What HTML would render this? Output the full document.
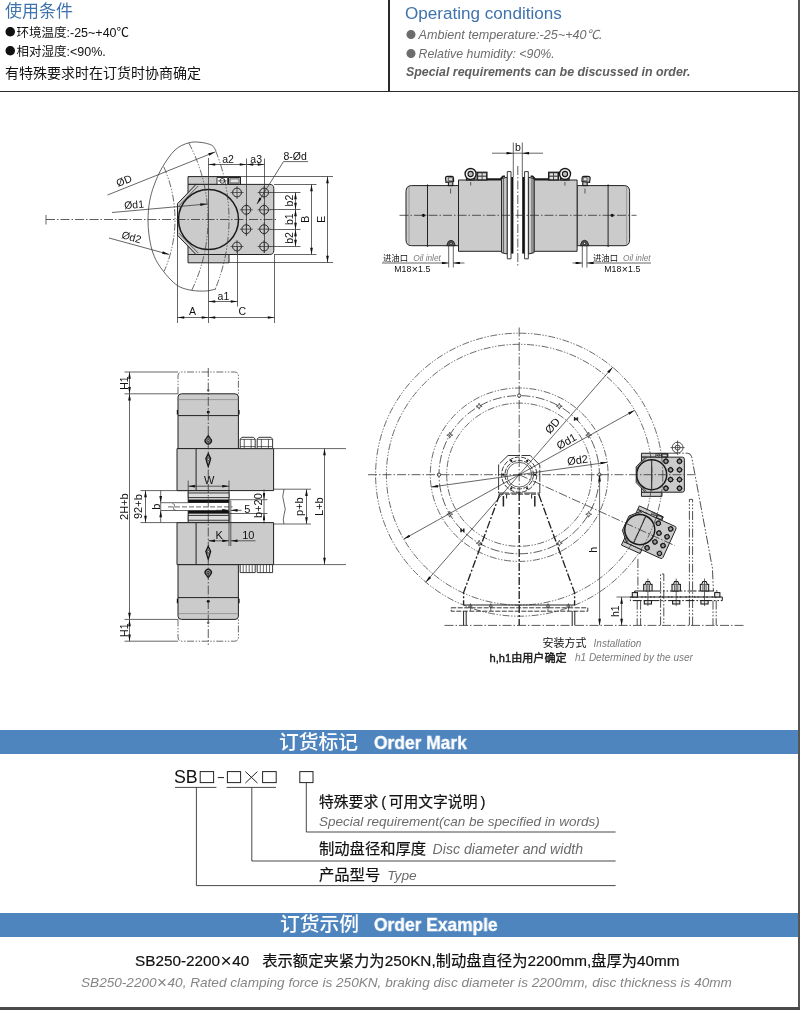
<!DOCTYPE html>
<html lang="zh">
<head>
<meta charset="utf-8">
<title>SB Brake - Order Mark</title>
<style>
html,body{margin:0;padding:0;background:#fff;}
body{width:800px;height:1010px;position:relative;overflow:hidden;font-family:"Liberation Sans","Noto Sans CJK SC",sans-serif;color:#111;}
.abs{position:absolute;white-space:nowrap;line-height:1;}
.t{position:absolute;white-space:nowrap;line-height:1;}
.hline{position:absolute;background:#2a2a2a;}
.band{position:absolute;left:0;width:798px;background:#4f85bf;}
.bt{position:absolute;color:#fff;white-space:nowrap;line-height:1;}
.eb{font-size:18.4px;font-weight:bold;transform-origin:0 50%;transform:scaleX(0.945);-webkit-text-stroke:0.35px #fff;}
.xx{font-size:1.25em;line-height:0;margin:0 0.5px;position:relative;top:0.8px;-webkit-text-stroke:0;}
.cj{-webkit-text-stroke:0.2px #111;}
.gi{color:#6c6c6c;font-style:italic;}
.bl{font-family:"Noto Sans CJK SC",sans-serif;font-style:normal;display:inline-block;width:11.5px;font-size:10.5px;position:relative;top:-0.6px;}
svg{position:absolute;left:0;top:0;will-change:transform;}
.t,.bt{will-change:transform;}
svg text{font-family:"Liberation Sans","Noto Sans CJK SC",sans-serif;fill:#111;}
</style>
</head>
<body>
<!-- page frame lines -->
<div class="hline" style="left:0;top:90.6px;width:800px;height:1.3px;"></div>
<div class="hline" style="left:388.3px;top:0;width:1.6px;height:91px;"></div>
<div class="hline" style="left:798.2px;top:0;width:1.8px;height:1010px;background:#555;"></div>
<div class="hline" style="left:0;top:1007.2px;width:800px;height:3px;background:#4a4a4a;"></div>

<!-- header left -->
<div class="t" style="left:4.5px;top:3px;font-size:17px;color:#3f73ad;">使用条件</div>
<div class="t" style="left:5px;top:27.4px;font-size:12.5px;"><span class="bl">●</span>环境温度:-25~+40℃</div>
<div class="t" style="left:5px;top:46px;font-size:12.5px;"><span class="bl">●</span>相对湿度:&lt;90%.</div>
<div class="t" style="left:5px;top:66px;font-size:14px;">有特殊要求时在订货时协商确定</div>

<!-- header right -->
<div class="t" style="left:405px;top:4.5px;font-size:17.1px;color:#3f73ad;">Operating conditions</div>
<div class="t gi" style="left:406px;top:28.9px;font-size:12.6px;"><span class="bl" style="width:12.5px;font-size:10px;position:relative;top:-0.5px">●</span>Ambient temperature:-25~+40℃.</div>
<div class="t gi" style="left:406px;top:48.1px;font-size:12.35px;"><span class="bl" style="width:12.5px;font-size:10px;position:relative;top:-0.5px">●</span>Relative humidity: &lt;90%.</div>
<div class="t gi" style="left:406px;top:65.8px;font-size:12.4px;font-weight:bold;color:#5e5e5e;">Special requirements can be discussed in order.</div>

<!-- bands -->
<div class="band" style="top:730px;height:23.8px;"></div>
<div class="bt" style="left:278.5px;top:733.2px;font-size:19.8px;font-weight:500;">订货标记</div>
<div class="bt eb" style="left:374px;top:733.9px;">Order Mark</div>

<div class="band" style="top:913.2px;height:23.8px;"></div>
<div class="bt" style="left:279.5px;top:915.4px;font-size:19.8px;font-weight:500;">订货示例</div>
<div class="bt eb" style="left:374px;top:916.4px;">Order Example</div>

<!-- order mark -->
<div class="t" style="left:174.4px;top:769.1px;font-size:17.8px;">SB</div>
<div class="t cj" style="left:318.5px;top:794.8px;font-size:14.8px;">特殊要求<span style="margin:0 2.5px 0 3px">(</span>可用文字说明<span style="margin-left:3px">)</span></div>
<div class="t gi" style="left:318.5px;top:814.6px;font-size:13.5px;">Special requirement(can be specified in words)</div>
<div class="t cj" style="left:318.5px;top:841px;font-size:15.3px;">制动盘径和厚度<span class="gi" style="font-size:14.1px;margin-left:6.5px;-webkit-text-stroke:0">Disc diameter and width</span></div>
<div class="t cj" style="left:318.5px;top:866.6px;font-size:15.3px;">产品型号<span class="gi" style="font-size:13.7px;margin-left:7px;-webkit-text-stroke:0">Type</span></div>

<!-- order example -->
<div class="t cj" style="left:135px;top:952.8px;font-size:15.3px;">SB250-2200<span class="xx">×</span>40<span style="display:inline-block;width:13px"></span>表示额定夹紧力为250KN,制动盘直径为2200mm,盘厚为40mm</div>
<div class="t gi" style="left:81px;top:976.2px;font-size:13.6px;color:#858585;">SB250-2200<span class="xx" style="font-style:normal">×</span>40, Rated clamping force is 250KN, braking disc diameter is 2200mm, disc thickness is 40mm</div>

<svg id="dw" width="800" height="1010" viewBox="0 0 800 1010">
<defs>
<marker id="ar" viewBox="0 0 10 4" refX="10" refY="2" markerWidth="8.5" markerHeight="2.7" orient="auto-start-reverse" markerUnits="userSpaceOnUse"><path d="M0,0 L10,2 L0,4 z" fill="#111"/></marker>
</defs>
<style>
.k{vector-effect:non-scaling-stroke;stroke:#222;stroke-width:1;fill:none}
.kg{vector-effect:non-scaling-stroke;stroke:#222;stroke-width:1;fill:#cbcbcb}
.kw{vector-effect:non-scaling-stroke;stroke:#222;stroke-width:0.9;fill:#fff}
.kb{vector-effect:non-scaling-stroke;stroke:#1a1a1a;stroke-width:1.5;fill:none}
.kbg{vector-effect:non-scaling-stroke;stroke:#1a1a1a;stroke-width:1.5;fill:#cbcbcb}
.n{vector-effect:non-scaling-stroke;stroke:#333;stroke-width:0.75;fill:none}
.nw{vector-effect:non-scaling-stroke;stroke:#333;stroke-width:0.65;fill:#e4e4e4}
.cl{stroke:#333;stroke-width:0.8;fill:none;stroke-dasharray:9 2 1.5 2}
.ph{stroke:#3a3a3a;stroke-width:0.75;fill:none;stroke-dasharray:7 1.6 1.4 1.6 1.4 1.6}
.blk{fill:#111;stroke:none}
.gf{fill:#cbcbcb;stroke:none}
.kl{stroke:#222;stroke-width:0.8;fill:#dedede}
.kbg2{stroke:#1a1a1a;stroke-width:1.3;fill:#8c8c8c}
.dsh{stroke:#666;stroke-width:1;fill:none;stroke-dasharray:5 2}
.kw2{stroke:#222;stroke-width:0.8;fill:#fff}
.k2{stroke:#222;stroke-width:1.5;fill:none}
.dk{stroke:#222;stroke-width:0.9;fill:none;stroke-dasharray:5 1.5}
.dk2{stroke:#222;stroke-width:1.35;fill:none;stroke-dasharray:8 2 2 2}
.dk3{stroke:#222;stroke-width:1.6;fill:none;stroke-dasharray:5 2}
.ph2{stroke:#222;stroke-width:0.8;fill:none;stroke-dasharray:9 1.8 1.6 1.8 1.6 1.8}
.sq{stroke:#222;stroke-width:1;fill:none}
.ol{stroke:#333;stroke-width:0.9;fill:none}
.hs{stroke:#222;stroke-width:0.9;fill:none;stroke-dasharray:12 1.5}
.kd{stroke:#222;stroke-width:0.9;fill:#555}
.n3{stroke:#333;stroke-width:0.7;fill:none}
.hd{stroke:#1a1a1a;stroke-width:1.1;fill:#9a9a9a}
.kb2{stroke:#1a1a1a;stroke-width:1.05;fill:#e6e6e6}
.ph3{stroke:#1a1a1a;stroke-width:1;fill:none;stroke-dasharray:9 1.8 1.6 1.8 1.6 1.8}
.kf{stroke:#1a1a1a;stroke-width:1.1;fill:#bdbdbd}
.kf2{stroke:#1a1a1a;stroke-width:1.1;fill:#444}
.wf{stroke:none;fill:#e2e2e2}
.kw3{stroke:#1a1a1a;stroke-width:1.4;fill:#f4f4f4}
.k3{stroke:#1a1a1a;stroke-width:1.7;fill:none}
.n2{stroke:#777;stroke-width:0.6;fill:none}
svg text.gi{fill:#7a7a7a;font-style:italic}
</style>

<g id="d1">
<g transform="translate(208.5,219.5)">
<g id="cal"><rect class="kg" x="-20.5" y="-42.9" width="52.5" height="7.8"/>
<rect class="kg" x="-20.5" y="35" width="41" height="8.3"/>
<path class="kg" d="M-20.5,-35.1 L-11.5,-35.1 L-20.5,-25.5 Z"/>
<path class="kg" d="M-20.5,35 L-11.5,35 L-20.5,25.5 Z"/>
<path class="kg" d="M-12.5,-35.1 L61.3,-35.1 Q65.3,-35.1 65.3,-31.1 L65.3,31 Q65.3,35 61.3,35 L-12.5,35 L-31,15.8 L-31,-15.8 Z"/>
<path class="n" d="M-10.3,-33.6 L-29.6,-13.6 M-29.6,13.6 L-10.3,33.6"/>
<rect class="kw" x="8.5" y="-42" width="10.7" height="6.9"/>
<circle class="kw" cx="13.8" cy="-38.6" r="2.4"/>
<line class="n" x1="9.5" y1="-38.6" x2="18.2" y2="-38.6"/>
<rect class="k" x="20" y="-42" width="12" height="6.9"/>
<rect class="nw" x="21.5" y="-40.6" width="9" height="4"/>
<circle class="kbg" cx="0" cy="0" r="30"/>
<circle class="kg" cx="28.5" cy="-27" r="4.4"/>
<line class="n" x1="22" y1="-27" x2="35" y2="-27"/>
<line class="n" x1="28.5" y1="-33.5" x2="28.5" y2="-20.5"/>
<circle class="kg" cx="55.6" cy="-27" r="4.4"/>
<line class="n" x1="49.1" y1="-27" x2="62.1" y2="-27"/>
<line class="n" x1="55.6" y1="-33.5" x2="55.6" y2="-20.5"/>
<circle class="kg" cx="37.8" cy="-9.7" r="4.4"/>
<line class="n" x1="31.3" y1="-9.7" x2="44.3" y2="-9.7"/>
<line class="n" x1="37.8" y1="-16.2" x2="37.8" y2="-3.2"/>
<circle class="kg" cx="55.6" cy="-9.7" r="4.4"/>
<line class="n" x1="49.1" y1="-9.7" x2="62.1" y2="-9.7"/>
<line class="n" x1="55.6" y1="-16.2" x2="55.6" y2="-3.2"/>
<circle class="kg" cx="37.8" cy="9.7" r="4.4"/>
<line class="n" x1="31.3" y1="9.7" x2="44.3" y2="9.7"/>
<line class="n" x1="37.8" y1="3.2" x2="37.8" y2="16.2"/>
<circle class="kg" cx="55.6" cy="9.7" r="4.4"/>
<line class="n" x1="49.1" y1="9.7" x2="62.1" y2="9.7"/>
<line class="n" x1="55.6" y1="3.2" x2="55.6" y2="16.2"/>
<circle class="kg" cx="28.5" cy="27" r="4.4"/>
<line class="n" x1="22" y1="27" x2="35" y2="27"/>
<line class="n" x1="28.5" y1="20.5" x2="28.5" y2="33.5"/>
<circle class="kg" cx="55.6" cy="27" r="4.4"/>
<line class="n" x1="49.1" y1="27" x2="62.1" y2="27"/>
<line class="n" x1="55.6" y1="20.5" x2="55.6" y2="33.5"/></g>
</g>
<path class="n" d="M216,151 C215.28,150.03 214.37,146.65 211.7,145.2 C209.03,143.75 203.87,142.68 200,142.3 C196.13,141.92 192.67,141.62 188.5,142.9 C184.33,144.18 179.38,145.9 175,150 C170.62,154.1 165.7,161.58 162.2,167.5 C158.7,173.42 156.12,179.75 154,185.5 C151.88,191.25 150.5,196.33 149.5,202 C148.5,207.67 148.08,214 148,219.5 C147.92,225 148.33,229.92 149,235 C149.67,240.08 150.67,245.5 152,250 C153.33,254.5 155,258.33 157,262 C159,265.67 161.5,268.83 164,272 C166.5,275.17 169.33,278.5 172,281 C174.67,283.5 176.67,285.43 180,287 C183.33,288.57 187.67,289.73 192,290.4 C196.33,291.07 202,291.23 206,291 C210,290.77 214.33,289.33 216,289"/>
<path class="ph" d="M215.67,150.95 A183,183 0 0 1 215.31,288.94"/>
<path class="ph" d="M188.77,142.95 A162,162 0 0 1 191.85,290.01"/>
<path class="ph" d="M163.76,166.83 A129,129 0 0 1 164.21,271.15"/>
<line class="cl" x1="46" y1="219.5" x2="278" y2="219.5"/>
<line class="n" x1="46" y1="215" x2="46" y2="224.5"/>
<line class="n" x1="107.5" y1="195" x2="215" y2="152" marker-end="url(#ar)"/>
<line class="n" x1="112" y1="212.5" x2="207" y2="204" marker-end="url(#ar)"/>
<line class="n" x1="109" y1="238" x2="169" y2="254.4" marker-end="url(#ar)"/>
<text x="124" y="184.28" font-size="10.5" text-anchor="middle" transform="rotate(-22 124 180.5)">ØD</text>
<text x="134" y="208.28" font-size="10.5" text-anchor="middle" transform="rotate(-5 134 204.5)">Ød1</text>
<text x="131.5" y="240.78" font-size="10.5" text-anchor="middle" transform="rotate(15.5 131.5 237)">Ød2</text>
<line class="n" x1="208.5" y1="158" x2="208.5" y2="323"/>
<line class="n" x1="246.5" y1="158.5" x2="246.5" y2="236"/>
<line class="n" x1="264.5" y1="158.5" x2="264.5" y2="253"/>
<line class="n" x1="208.5" y1="164.5" x2="246.5" y2="164.5" marker-start="url(#ar)" marker-end="url(#ar)"/>
<line class="n" x1="246.5" y1="164.5" x2="264.5" y2="164.5" marker-start="url(#ar)" marker-end="url(#ar)"/>
<text x="228" y="163.28" font-size="10.5" text-anchor="middle">a2</text>
<text x="256.2" y="163.28" font-size="10.5" text-anchor="middle">a3</text>
<text x="283.5" y="159.8" font-size="10.5" text-anchor="start">8-Ød</text>
<line class="n" x1="283.5" y1="161.6" x2="308" y2="161.6"/>
<line class="n" x1="283.5" y1="161.6" x2="257" y2="204" marker-end="url(#ar)"/>
<line class="n" x1="240.5" y1="176.5" x2="333" y2="176.5"/>
<line class="n" x1="274" y1="184.5" x2="316.5" y2="184.5"/>
<line class="n" x1="270" y1="192.5" x2="300.5" y2="192.5"/>
<line class="n" x1="270" y1="209.5" x2="300.5" y2="209.5"/>
<line class="n" x1="270" y1="229.5" x2="300.5" y2="229.5"/>
<line class="n" x1="270" y1="246.5" x2="300.5" y2="246.5"/>
<line class="n" x1="274" y1="254.5" x2="316.5" y2="254.5"/>
<line class="n" x1="229" y1="262.5" x2="333" y2="262.5"/>
<line class="n" x1="295.5" y1="192.5" x2="295.5" y2="209.5" marker-start="url(#ar)" marker-end="url(#ar)"/>
<line class="n" x1="295.5" y1="209.5" x2="295.5" y2="229.5" marker-start="url(#ar)" marker-end="url(#ar)"/>
<line class="n" x1="295.5" y1="229.5" x2="295.5" y2="246.5" marker-start="url(#ar)" marker-end="url(#ar)"/>
<line class="n" x1="311.5" y1="184.5" x2="311.5" y2="254.5" marker-start="url(#ar)" marker-end="url(#ar)"/>
<line class="n" x1="327.5" y1="176.5" x2="327.5" y2="262.5" marker-start="url(#ar)" marker-end="url(#ar)"/>
<text x="289" y="204.38" font-size="10.5" text-anchor="middle" transform="rotate(-90 289 200.6)">b2</text>
<text x="289" y="222.98" font-size="10.5" text-anchor="middle" transform="rotate(-90 289 219.2)">b1</text>
<text x="289" y="241.78" font-size="10.5" text-anchor="middle" transform="rotate(-90 289 238)">b2</text>
<text x="305.4" y="222.98" font-size="10.5" text-anchor="middle" transform="rotate(-90 305.4 219.2)">B</text>
<text x="321.6" y="222.98" font-size="10.5" text-anchor="middle" transform="rotate(-90 321.6 219.2)">E</text>
<line class="n" x1="177.5" y1="232" x2="177.5" y2="323"/>
<line class="n" x1="237.5" y1="246.5" x2="237.5" y2="306.5"/>
<line class="n" x1="274.5" y1="254.5" x2="274.5" y2="323"/>
<line class="n" x1="177.5" y1="317.5" x2="208.5" y2="317.5" marker-start="url(#ar)" marker-end="url(#ar)"/>
<line class="n" x1="208.5" y1="317.5" x2="274.5" y2="317.5" marker-start="url(#ar)" marker-end="url(#ar)"/>
<line class="n" x1="208.5" y1="301.5" x2="237.5" y2="301.5" marker-start="url(#ar)" marker-end="url(#ar)"/>
<text x="192.4" y="315.08" font-size="10.5" text-anchor="middle">A</text>
<text x="242.4" y="315.08" font-size="10.5" text-anchor="middle">C</text>
<text x="223.4" y="299.58" font-size="10.5" text-anchor="middle">a1</text>
</g>
<g id="d2">
<g id="d2h"><path class="kg" d="M458.5,185.6 L411.5,185.6 Q406,185.6 406,191.5 L406,239.8 Q406,245.7 411.5,245.7 L458.5,245.7 Z"/>
<line class="n2" x1="409" y1="186.5" x2="409" y2="244.8"/>
<line class="k" x1="427.5" y1="185.6" x2="427.5" y2="245.7"/>
<path class="blk" d="M426.3,185.6 L427.5,184.2 L428.7,185.6 Z"/>
<path class="blk" d="M426.3,245.7 L427.5,247.1 L428.7,245.7 Z"/>
<rect class="kg" x="458.5" y="180" width="43.1" height="71.3"/>
<path class="kg" d="M501.6,178.6 L507.3,177.2 L507.3,254 L501.6,252.7 Z"/>
<line class="n" x1="503.6" y1="178.4" x2="503.6" y2="253"/>
<rect class="kw" x="507.3" y="171.6" width="3.7" height="87.2"/>
<rect class="blk" x="511.2" y="177" width="2.2" height="76.6"/>
<circle class="blk" cx="423.4" cy="215.3" r="1.6"/>
<rect class="kf" x="448.4" y="181" width="4.4" height="4.6"/>
<path class="kf" d="M445.4,177.8 Q445.6,176.4 447.4,176.4 L452,176.4 Q453.6,176.6 453.6,178.4 L453.6,181.6 L446,182.4 Z"/>
<rect class="nw" x="448.6" y="177.6" width="3.8" height="3.2"/>
<line class="n" x1="450.6" y1="188.5" x2="450.6" y2="193.5"/>
<rect class="kf" x="466.5" y="178.2" width="8.5" height="1.8"/>
<circle class="kw3" cx="470.6" cy="174" r="5.5"/>
<circle class="kf" cx="470.6" cy="174" r="2.6"/>
<line class="n" x1="470.7" y1="182" x2="470.7" y2="185.5"/>
<rect class="kf2" x="477" y="172.2" width="10" height="7.8"/>
<rect class="wf" x="478.2" y="173.3" width="3.4" height="2.3"/>
<rect class="wf" x="482.6" y="173.3" width="3.4" height="2.3"/>
<rect class="wf" x="478.2" y="176.8" width="3.4" height="2.4"/>
<rect class="wf" x="482.6" y="176.8" width="3.4" height="2.4"/>
<path class="k3" d="M487,179.2 L500.4,179.2 L503,176.4 L505,176.4"/>
<path class="kd" d="M446.6,245.7 L448.4,241.4 Q451,239.2 453.6,241.4 L455.4,245.7 Z"/>
<circle class="kw" cx="451" cy="243.4" r="1.1"/>
<line class="n" x1="448.7" y1="246" x2="448.7" y2="267.5"/>
<line class="n" x1="453.3" y1="246" x2="453.3" y2="267.5"/></g>
<use href="#d2h" transform="translate(1035.6,0) scale(-1,1)"/>
<line class="cl" x1="399.5" y1="215.3" x2="636.5" y2="215.3"/>
<line class="cl" x1="517.8" y1="166" x2="517.8" y2="266.5"/>
<line class="n" x1="513.3" y1="142.5" x2="513.3" y2="177"/>
<line class="n" x1="522.3" y1="142.5" x2="522.3" y2="177"/>
<line class="n" x1="492" y1="153.2" x2="513.3" y2="153.2" marker-end="url(#ar)"/>
<line class="n" x1="543" y1="153.2" x2="522.3" y2="153.2" marker-end="url(#ar)"/>
<line class="n" x1="513.3" y1="153.2" x2="522.3" y2="153.2"/>
<text x="517.8" y="150.58" font-size="10.5" text-anchor="middle">b</text>
<line class="n" x1="382" y1="263" x2="448.7" y2="263" marker-end="url(#ar)"/>
<line class="n" x1="464.5" y1="263" x2="453.3" y2="263" marker-end="url(#ar)"/>
<line class="n" x1="651" y1="263" x2="586.9" y2="263" marker-end="url(#ar)"/>
<line class="n" x1="572.5" y1="263" x2="582.3" y2="263" marker-end="url(#ar)"/>
<text x="383" y="261" font-size="8.4" text-anchor="start">进油口</text>
<text x="413.2" y="260.6" font-size="8.3" text-anchor="start" class="gi">Oil inlet</text>
<text x="394.2" y="272.2" font-size="8.8" text-anchor="start">M18<tspan font-size="10.5" dx="0.3" dy="0.4">×</tspan><tspan dx="0.3" dy="-0.4">1.5</tspan></text>
<text x="593" y="261" font-size="8.4" text-anchor="start">进油口</text>
<text x="623" y="260.6" font-size="8.3" text-anchor="start" class="gi">Oil inlet</text>
<text x="604.2" y="272.2" font-size="8.8" text-anchor="start">M18<tspan font-size="10.5" dx="0.3" dy="0.4">×</tspan><tspan dx="0.3" dy="-0.4">1.5</tspan></text>
</g>
<g id="d3">
<g id="d3h"><path class="kg" d="M178,448.6 L178,397 Q178,393.8 181.5,393.8 L235,393.8 Q238.4,393.8 238.4,397 L238.4,448.6 Z"/>
<line class="n2" x1="178" y1="399.6" x2="238.4" y2="399.6"/>
<line class="k" x1="178" y1="415.6" x2="238.4" y2="415.6"/>
<rect class="blk" x="176.8" y="410" width="1.2" height="4.5"/>
<rect class="blk" x="238.4" y="410" width="1.2" height="4.5"/>
<path class="ph" d="M178,393.8 L178,376 Q178,372 182,372 L234.4,372 Q238.4,372 238.4,376 L238.4,393.8"/>
<rect class="kg" x="177" y="448.6" width="96.6" height="42"/>
<line class="k" x1="196.1" y1="448.6" x2="196.1" y2="490.6"/>
<rect class="kg" x="188.2" y="490.6" width="40.8" height="11.8"/>
<rect class="kl" x="188.2" y="493" width="40.8" height="4.6"/>
<rect class="blk" x="188.2" y="499.6" width="40.8" height="2.9"/>
<path class="kbg2" d="M208.25,435.6 L210.45,438.6 A3.1,3.1 0 1 1 206.05,438.6 Z"/>
<circle class="kw" cx="208.25" cy="440.6" r="1.1"/>
<circle class="blk" cx="208.25" cy="412" r="1.5"/>
<circle class="n" cx="208.25" cy="390.4" r="0.9"/>
<line class="n" x1="160.7" y1="502.7" x2="188.2" y2="502.7"/>
<line class="n" x1="124.5" y1="372" x2="178" y2="372"/>
<line class="n" x1="124.5" y1="393.8" x2="178" y2="393.8"/>
<line class="n" x1="140.5" y1="490.6" x2="188" y2="490.6"/>
<line class="n" x1="273.6" y1="448.6" x2="346" y2="448.6"/>
<line class="n" x1="274" y1="489.2" x2="311" y2="489.2"/>
<line class="n" x1="229" y1="499.7" x2="267.5" y2="499.7"/></g>
<use href="#d3h" transform="translate(0,1013.2) scale(1,-1)"/>
<path class="kw" d="M240.2,448.6 L240.2,439.2 L241.8,437.3 L253.6,437.3 L255.2,439.2 L255.2,448.6 Z"/>
<line class="n" x1="244.25" y1="439" x2="244.25" y2="448.6"/>
<line class="n" x1="251.15" y1="439" x2="251.15" y2="448.6"/>
<line class="n" x1="240.2" y1="439.4" x2="255.2" y2="439.4"/>
<line class="n" x1="240.2" y1="446.6" x2="255.2" y2="446.6"/>
<rect class="kw" x="240.2" y="564.6" width="15" height="8"/>
<line class="n" x1="243.2" y1="564.6" x2="243.2" y2="572.6"/>
<line class="n" x1="246.2" y1="564.6" x2="246.2" y2="572.6"/>
<line class="n" x1="249.2" y1="564.6" x2="249.2" y2="572.6"/>
<line class="n" x1="252.2" y1="564.6" x2="252.2" y2="572.6"/>
<path class="kw" d="M257.2,448.6 L257.2,439.2 L258.8,437.3 L271,437.3 L272.6,439.2 L272.6,448.6 Z"/>
<line class="n" x1="261.36" y1="439" x2="261.36" y2="448.6"/>
<line class="n" x1="268.44" y1="439" x2="268.44" y2="448.6"/>
<line class="n" x1="257.2" y1="439.4" x2="272.6" y2="439.4"/>
<line class="n" x1="257.2" y1="446.6" x2="272.6" y2="446.6"/>
<rect class="kw" x="257.2" y="564.6" width="15.4" height="8"/>
<line class="n" x1="260.28" y1="564.6" x2="260.28" y2="572.6"/>
<line class="n" x1="263.36" y1="564.6" x2="263.36" y2="572.6"/>
<line class="n" x1="266.44" y1="564.6" x2="266.44" y2="572.6"/>
<line class="n" x1="269.52" y1="564.6" x2="269.52" y2="572.6"/>
<line class="cl" x1="208.25" y1="368" x2="208.25" y2="645"/>
<path class="kbg2" d="M208.25,453.6 L210.65,458.6 L209.45,463 L208.25,466.4 L207.05,463 L205.85,458.6 Z"/>
<circle class="kw" cx="208.25" cy="459.2" r="1.2"/>
<path class="kbg2" d="M208.25,546.2 L210.65,551.2 L209.45,555.6 L208.25,559 L207.05,555.6 L205.85,551.2 Z"/>
<circle class="kw" cx="208.25" cy="551.8" r="1.2"/>
<line class="dsh" x1="168" y1="506.9" x2="232.5" y2="506.9"/>
<path class="n" d="M172.5,503.6 Q175.5,504 174,506.9 Q172.5,509.8 175.5,510.2"/>
<line class="n" x1="229" y1="502.7" x2="229" y2="510.6"/>
<line class="n" x1="188.2" y1="480.5" x2="188.2" y2="490.6"/>
<line class="n" x1="229" y1="480.5" x2="229" y2="490.6"/>
<line class="n" x1="188.2" y1="486.2" x2="229" y2="486.2" marker-start="url(#ar)" marker-end="url(#ar)"/>
<text x="209.2" y="484.16" font-size="11" text-anchor="middle">W</text>
<line class="n" x1="129.5" y1="372" x2="129.5" y2="393.8" marker-start="url(#ar)" marker-end="url(#ar)"/>
<line class="n" x1="129.5" y1="619.4" x2="129.5" y2="641.2" marker-start="url(#ar)" marker-end="url(#ar)"/>
<line class="n" x1="129.5" y1="393.8" x2="129.5" y2="619.4" marker-start="url(#ar)" marker-end="url(#ar)"/>
<text x="123.8" y="386.78" font-size="10.5" text-anchor="middle" transform="rotate(-90 123.8 383)">H1</text>
<text x="123.8" y="633.98" font-size="10.5" text-anchor="middle" transform="rotate(-90 123.8 630.2)">H1</text>
<text x="123.6" y="510.56" font-size="11" text-anchor="middle" transform="rotate(-90 123.6 506.6)">2H+b</text>
<line class="n" x1="145.5" y1="490.6" x2="145.5" y2="522.6" marker-start="url(#ar)" marker-end="url(#ar)"/>
<text x="138.4" y="510.56" font-size="11" text-anchor="middle" transform="rotate(-90 138.4 506.6)">92+b</text>
<line class="n" x1="160.7" y1="490.6" x2="160.7" y2="502.7" marker-end="url(#ar)"/>
<line class="n" x1="160.7" y1="522.6" x2="160.7" y2="510.5" marker-end="url(#ar)"/>
<line class="n" x1="160.7" y1="502.7" x2="160.7" y2="510.5"/>
<text x="155.6" y="510.76" font-size="11" text-anchor="middle" transform="rotate(-90 155.6 506.8)">b</text>
<line class="n" x1="229" y1="500.5" x2="229" y2="546"/>
<line class="n" x1="230.8" y1="500.5" x2="230.8" y2="546"/>
<line class="n" x1="208.25" y1="540.8" x2="229" y2="540.8" marker-start="url(#ar)" marker-end="url(#ar)"/>
<line class="n" x1="255.5" y1="540.8" x2="230.8" y2="540.8" marker-end="url(#ar)"/>
<text x="219.2" y="539.36" font-size="11" text-anchor="middle">K</text>
<text x="248.3" y="538.96" font-size="11" text-anchor="middle">10</text>
<line class="n" x1="216" y1="510.3" x2="229" y2="510.3" marker-end="url(#ar)"/>
<line class="n" x1="241.5" y1="510.3" x2="230.8" y2="510.3" marker-end="url(#ar)"/>
<text x="247.4" y="512.96" font-size="11" text-anchor="middle">5</text>
<line class="n" x1="264" y1="489.5" x2="264" y2="499.7" marker-end="url(#ar)"/>
<line class="n" x1="264" y1="523.5" x2="264" y2="513.5" marker-end="url(#ar)"/>
<line class="n" x1="264" y1="499.7" x2="264" y2="513.5"/>
<text x="258" y="509.56" font-size="11" text-anchor="middle" transform="rotate(-90 258 505.6)">b+20</text>
<path class="n" d="M284,489.2 Q281.5,497 284,503 Q286.5,509 284,515 Q282.5,520 284,524"/>
<line class="n" x1="306.5" y1="489.2" x2="306.5" y2="524" marker-start="url(#ar)" marker-end="url(#ar)"/>
<text x="298.6" y="510.56" font-size="11" text-anchor="middle" transform="rotate(-90 298.6 506.6)">p+b</text>
<line class="n" x1="324.5" y1="448.6" x2="324.5" y2="564.6" marker-start="url(#ar)" marker-end="url(#ar)"/>
<text x="318.6" y="510.56" font-size="11" text-anchor="middle" transform="rotate(-90 318.6 506.6)">L+b</text>
</g>
<g id="d4">
<g transform="rotate(0 519.2 474.7)">
<use href="#cal" transform="translate(651.7,474.7) scale(0.5)"/>
<line class="k" x1="651.7" y1="459.5" x2="651.7" y2="490"/>
<circle class="hd" cx="665.95" cy="461.2" r="2.1"/>
<circle class="hd" cx="679.5" cy="461.2" r="2.1"/>
<circle class="hd" cx="670.6" cy="469.85" r="2.1"/>
<circle class="hd" cx="679.5" cy="469.85" r="2.1"/>
<circle class="hd" cx="670.6" cy="479.55" r="2.1"/>
<circle class="hd" cx="679.5" cy="479.55" r="2.1"/>
<circle class="hd" cx="665.95" cy="488.2" r="2.1"/>
<circle class="hd" cx="679.5" cy="488.2" r="2.1"/>
</g>
<g transform="rotate(24.5 519.2 474.7)">
<use href="#cal" transform="translate(651.7,474.7) scale(0.5)"/>
<line class="k" x1="651.7" y1="459.5" x2="651.7" y2="490"/>
<circle class="hd" cx="665.95" cy="461.2" r="2.1"/>
<circle class="hd" cx="679.5" cy="461.2" r="2.1"/>
<circle class="hd" cx="670.6" cy="469.85" r="2.1"/>
<circle class="hd" cx="679.5" cy="469.85" r="2.1"/>
<circle class="hd" cx="670.6" cy="479.55" r="2.1"/>
<circle class="hd" cx="679.5" cy="479.55" r="2.1"/>
<circle class="hd" cx="665.95" cy="488.2" r="2.1"/>
<circle class="hd" cx="679.5" cy="488.2" r="2.1"/>
</g>
<ellipse class="ph" cx="519.2" cy="474.7" rx="143.6" ry="141.5"/>
<ellipse class="ph" cx="519.2" cy="474.7" rx="132.8" ry="130.4"/>
<ellipse class="ph" cx="519.2" cy="474.7" rx="88.9" ry="86.7"/>
<ellipse class="ph" cx="519.2" cy="474.7" rx="72.5" ry="71.6"/>
<ellipse class="cl" cx="519.2" cy="474.7" rx="80.2" ry="79.1"/>
<circle class="kw2" cx="599.4" cy="474.7" r="1.7"/>
<path class="n3" d="M588.66,511.25 L589.5,513.41 L591.66,514.25 L589.5,515.09 L588.66,517.25 L587.82,515.09 L585.66,514.25 L587.82,513.41 Z"/>
<path class="n3" d="M559.3,540.2 L560.14,542.36 L562.3,543.2 L560.14,544.04 L559.3,546.2 L558.46,544.04 L556.3,543.2 L558.46,542.36 Z"/>
<path class="n3" d="M479.1,540.2 L479.94,542.36 L482.1,543.2 L479.94,544.04 L479.1,546.2 L478.26,544.04 L476.1,543.2 L478.26,542.36 Z"/>
<path class="n3" d="M449.74,511.25 L450.58,513.41 L452.74,514.25 L450.58,515.09 L449.74,517.25 L448.9,515.09 L446.74,514.25 L448.9,513.41 Z"/>
<circle class="kw2" cx="439" cy="474.7" r="1.7"/>
<path class="n3" d="M449.74,432.15 L450.58,434.31 L452.74,435.15 L450.58,435.99 L449.74,438.15 L448.9,435.99 L446.74,435.15 L448.9,434.31 Z"/>
<path class="n3" d="M479.1,403.2 L479.94,405.36 L482.1,406.2 L479.94,407.04 L479.1,409.2 L478.26,407.04 L476.1,406.2 L478.26,405.36 Z"/>
<circle class="kw2" cx="519.2" cy="395.6" r="1.7"/>
<path class="n3" d="M559.3,403.2 L560.14,405.36 L562.3,406.2 L560.14,407.04 L559.3,409.2 L558.46,407.04 L556.3,406.2 L558.46,405.36 Z"/>
<path class="n3" d="M588.66,432.15 L589.5,434.31 L591.66,435.15 L589.5,435.99 L588.66,438.15 L587.82,435.99 L585.66,435.15 L587.82,434.31 Z"/>
<line class="cl" x1="368" y1="474.7" x2="694" y2="474.7"/>
<line class="cl" x1="519.2" y1="327.5" x2="519.2" y2="493"/>
<line class="cl" x1="519.2" y1="474.7" x2="674.8" y2="545.61"/>
<line class="n" x1="612.65" y1="367.26" x2="425.75" y2="582.14" marker-start="url(#ar)" marker-end="url(#ar)"/>
<line class="n" x1="634.67" y1="410.29" x2="403.73" y2="539.11" marker-start="url(#ar)" marker-end="url(#ar)"/>
<line class="n" x1="607.19" y1="462.33" x2="431.21" y2="487.07" marker-start="url(#ar)" marker-end="url(#ar)"/>
<text x="552.3" y="429.56" font-size="11" text-anchor="middle" transform="rotate(-49.4 552.3 425.6)">ØD</text>
<text x="566.4" y="445.26" font-size="11" text-anchor="middle" transform="rotate(-29.6 566.4 441.3)">Ød1</text>
<text x="577.6" y="463.96" font-size="11" text-anchor="middle" transform="rotate(-8 577.6 460)">Ød2</text>
<path class="k2" d="M574.6,417.2 v3.6 M577.4,417.2 v3.6 M574.6,419 h2.8"/>
<path class="k2" d="M461,528.6 v3.6 M463.8,528.6 v3.6 M461,530.4 h2.8"/>
<path class="hs" d="M508,455.5 L530.2,455.5 L539.8,465 L539.8,493 L498.6,493 L498.6,464.6 Z"/>
<circle class="dk" cx="519.2" cy="474.7" r="17.6"/>
<circle class="dk" cx="519.2" cy="474.7" r="14.2"/>
<circle class="n" cx="519.2" cy="474.7" r="12.4"/>
<circle class="blk" cx="535.1" cy="474.7" r="1.1"/>
<circle class="blk" cx="527.15" cy="488.47" r="1.1"/>
<circle class="blk" cx="511.25" cy="488.47" r="1.1"/>
<circle class="blk" cx="503.3" cy="474.7" r="1.1"/>
<circle class="blk" cx="511.25" cy="460.93" r="1.1"/>
<circle class="blk" cx="527.15" cy="460.93" r="1.1"/>
<circle class="blk" cx="519.2" cy="474.7" r="0.9"/>
<line class="dk" x1="498.6" y1="494.2" x2="540" y2="494.2"/>
<path class="dk2" d="M499.6,494.6 L463.6,592.6 L463.6,605"/>
<path class="dk2" d="M538.8,494.6 L574.6,592.6 L574.6,605"/>
<line class="dk2" x1="519.2" y1="493" x2="519.2" y2="625.4"/>
<line class="k2" x1="503.4" y1="496" x2="503.4" y2="506.5"/>
<line class="k" x1="506.6" y1="494.5" x2="506.6" y2="498.5"/>
<line class="k2" x1="534.8" y1="496" x2="534.8" y2="506.5"/>
<line class="k" x1="531.6" y1="494.5" x2="531.6" y2="498.5"/>
<line class="k" x1="463.6" y1="605" x2="574.6" y2="605"/>
<rect class="dk" x="451.2" y="607.8" width="136.6" height="3.4"/>
<circle class="kw2" cx="470.4" cy="606.2" r="1.4"/>
<line class="n" x1="470.4" y1="603.4" x2="470.4" y2="611"/>
<circle class="kw2" cx="490.8" cy="606.2" r="1.4"/>
<line class="n" x1="490.8" y1="603.4" x2="490.8" y2="611"/>
<circle class="kw2" cx="548" cy="606.2" r="1.4"/>
<line class="n" x1="548" y1="603.4" x2="548" y2="611"/>
<circle class="kw2" cx="568.4" cy="606.2" r="1.4"/>
<line class="n" x1="568.4" y1="603.4" x2="568.4" y2="611"/>
<line class="k" x1="463.6" y1="611" x2="463.6" y2="625.4"/>
<line class="k" x1="466.2" y1="611" x2="466.2" y2="625.4"/>
<line class="k" x1="572.2" y1="611" x2="572.2" y2="625.4"/>
<line class="k" x1="574.8" y1="611" x2="574.8" y2="625.4"/>
<line class="cl" x1="444.5" y1="625.4" x2="744" y2="625.4"/>
<line class="n" x1="599.6" y1="474.7" x2="599.6" y2="625.4" marker-start="url(#ar)" marker-end="url(#ar)"/>
<text x="593.6" y="553.58" font-size="10.5" text-anchor="middle" transform="rotate(-90 593.6 549.8)">h</text>
<line class="n" x1="616.5" y1="597" x2="634.7" y2="597"/>
<line class="n" x1="621.6" y1="597" x2="621.6" y2="625.4" marker-start="url(#ar)" marker-end="url(#ar)"/>
<text x="615.2" y="614.98" font-size="10.5" text-anchor="middle" transform="rotate(-90 615.2 611.2)">h1</text>
<circle class="kw2" cx="677.6" cy="447.6" r="5.4"/>
<circle class="kw2" cx="677.6" cy="447.6" r="2.5"/>
<line class="n" x1="670.5" y1="447.6" x2="684.7" y2="447.6"/>
<line class="n" x1="677.6" y1="440.5" x2="677.6" y2="455"/>
<path class="ph2" d="M668,453.2 L687.2,453.2 Q690.6,453.2 691.6,456.6 L712.4,568 L713.4,591"/>
<path class="ph2" d="M637.9,559 L637.9,591"/>
<path class="ph2" d="M689.4,625.4 L689.4,499.4 L692.6,499.4 L692.6,625.4"/>
<path class="ph2" d="M660.6,625.4 L660.6,574 L663.8,574 L663.8,625.4"/>
<path class="ph2" d="M637.2,600.6 L637.2,625.4 M640.6,600.6 L640.6,625.4 M713,600.6 L713,625.4 M716.2,600.6 L716.2,625.4"/>
<rect class="ph3" x="634.7" y="591" width="83" height="6"/>
<rect class="ph3" x="630.4" y="597" width="91.9" height="3.6"/>
<rect class="kb2" x="643.7" y="584.4" width="8.4" height="6.6"/>
<path class="kb2" d="M645.1,584.4 L646.3,581.4 L649.5,581.4 L650.7,584.4"/>
<line class="n" x1="646.3" y1="584.4" x2="646.3" y2="591"/>
<line class="n" x1="649.5" y1="584.4" x2="649.5" y2="591"/>
<rect class="kb2" x="644.3" y="600.6" width="7.2" height="3.4"/>
<line class="n" x1="647.9" y1="578.5" x2="647.9" y2="606"/>
<rect class="kb2" x="672" y="584.4" width="8.4" height="6.6"/>
<path class="kb2" d="M673.4,584.4 L674.6,581.4 L677.8,581.4 L679,584.4"/>
<line class="n" x1="674.6" y1="584.4" x2="674.6" y2="591"/>
<line class="n" x1="677.8" y1="584.4" x2="677.8" y2="591"/>
<rect class="kb2" x="672.6" y="600.6" width="7.2" height="3.4"/>
<line class="n" x1="676.2" y1="578.5" x2="676.2" y2="606"/>
<rect class="kb2" x="700.3" y="584.4" width="8.4" height="6.6"/>
<path class="kb2" d="M701.7,584.4 L702.9,581.4 L706.1,581.4 L707.3,584.4"/>
<line class="n" x1="702.9" y1="584.4" x2="702.9" y2="591"/>
<line class="n" x1="706.1" y1="584.4" x2="706.1" y2="591"/>
<rect class="kb2" x="700.9" y="600.6" width="7.2" height="3.4"/>
<line class="n" x1="704.5" y1="578.5" x2="704.5" y2="606"/>
<rect class="kb2" x="632.3" y="592.6" width="5.2" height="4.4"/>
<rect class="kb2" x="714.7" y="592.6" width="5.2" height="4.4"/>
<text x="542.6" y="647.2" font-size="11" text-anchor="start">安装方式</text>
<text x="593.6" y="646.8" font-size="10" text-anchor="start" class="gi">Installation</text>
<text x="489.6" y="661.6" font-size="11.1" text-anchor="start" stroke="#111" stroke-width="0.35">h,h1由用户确定</text>
<text x="575" y="661.2" font-size="10" text-anchor="start" class="gi">h1 Determined by the user</text>
</g>
<g id="om">
<rect class="sq" x="200.2" y="771.6" width="13.4" height="11"/>
<rect class="sq" x="227.4" y="771.6" width="13.2" height="11"/>
<rect class="sq" x="262.6" y="771.6" width="13.6" height="11"/>
<rect class="sq" x="299.8" y="771.6" width="13.2" height="11"/>
<line class="sq" x1="217.8" y1="777.6" x2="224" y2="777.6"/>
<path class="sq" d="M245.4,771.6 L257.4,783 M257.4,771.6 L245.4,783"/>
<line class="ol" x1="175" y1="787.4" x2="216.4" y2="787.4"/>
<line class="ol" x1="226.6" y1="787.4" x2="276" y2="787.4"/>
<path class="ol" d="M196.4,787.4 L196.4,885.6 L615.6,885.6"/>
<path class="ol" d="M251.8,787.4 L251.8,861 L615.6,861"/>
<path class="ol" d="M306.3,783 L306.3,832 L615.6,832"/>
</g>
</svg>
</body>
</html>
